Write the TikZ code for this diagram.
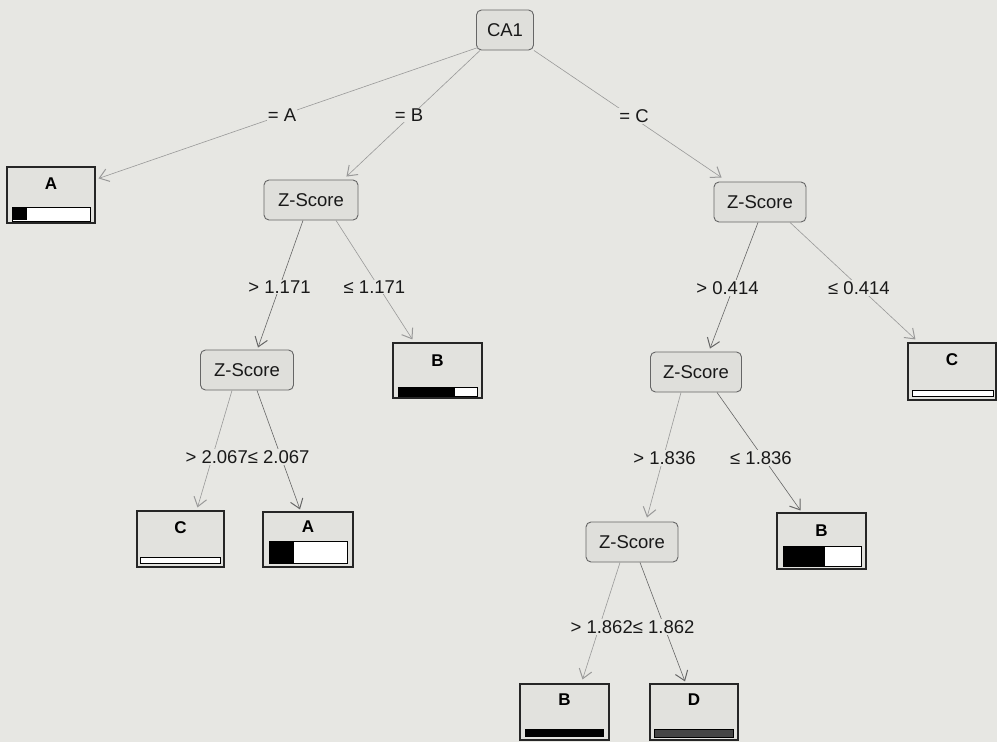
\documentclass[tikz,border=0pt]{standalone}
\usepackage{fontspec}
\setmainfont{Liberation Sans}
\usetikzlibrary{arrows.meta,calc}
\definecolor{bgc}{RGB}{231,231,227}
\definecolor{nodefill}{RGB}{223,223,219}
\definecolor{leaffill}{RGB}{226,226,222}
\definecolor{txt}{RGB}{25,25,25}
\definecolor{darkbar}{RGB}{70,70,70}
\tikzset{
  split/.style={draw=black!60, fill=nodefill, rounded corners=5pt, line width=0.9pt,
    minimum height=40pt, inner sep=0pt, text=txt, font=\fontsize{18.5}{20}\selectfont},
  leafbox/.style={draw=black!85, fill=leaffill, line width=1.1pt,
    minimum width=88pt, minimum height=56pt, inner sep=0pt},
  leafletter/.style={inner sep=0pt, text=black, font=\bfseries\fontsize{17}{19}\selectfont},
  lbl/.style={inner sep=1pt, fill=bgc, text=txt, font=\fontsize{18.5}{20}\selectfont},
  conn/.style={draw=black!40, line width=0.6pt, -{Straight Barb[length=9pt,width=13pt,line width=1pt]}},
  conndark/.style={conn, draw=black!60},
  barframe/.style={draw=black, line width=1pt, fill=white}
}
\begin{document}
\begin{tikzpicture}[x=1pt,y=-1pt]
\fill[bgc] (0,0) rectangle (997,742);
\useasboundingbox (0,0) rectangle (997,742);

% split nodes
\node[split, minimum width=57pt] (ca1) at (505,30) {CA1};
\node[split, minimum width=94pt] (zb) at (311,200) {Z-Score};
\node[split, minimum width=92pt] (zc) at (760,202) {Z-Score};
\node[split, minimum width=93pt] (z3l) at (247,370) {Z-Score};
\node[split, minimum width=91pt] (z3r) at (696,372) {Z-Score};
\node[split, minimum width=92pt] (z4) at (632,542) {Z-Score};

% leaf A (top left)
\node[leafbox] (la1) at (51,195) {};
\node[leafletter] (la1t) at (51,184) {A};
\draw[barframe] (12,207) rectangle (90,221);
\fill[black] (12,208) rectangle (27,220);

% leaf B (<= 1.171)
\node[leafbox, minimum width=89pt, minimum height=55pt] (lb1) at (437.5,370.5) {};
\node[leafletter] (lb1t) at (437.5,360.5) {B};
\draw[barframe] (398,387) rectangle (477,396);
\fill[black] (398,387) rectangle (455,396);

% leaf C (> 2.067)
\node[leafbox, minimum width=87pt] (lc1) at (180.5,539) {};
\node[leafletter] (lc1t) at (180.5,527.5) {C};
\draw[barframe] (140,557) rectangle (220,563);

% leaf A (<= 2.067)
\node[leafbox, minimum width=90pt, minimum height=55pt] (la2) at (308,539.5) {};
\node[leafletter] (la2t) at (308,527) {A};
\draw[barframe] (269,541) rectangle (347,563);
\fill[black] (269,541) rectangle (294,563);

% leaf C (<= 0.414)
\node[leafbox, minimum width=88pt, minimum height=57pt] (lc2) at (952,371.5) {};
\node[leafletter] (lc2t) at (952,360) {C};
\draw[barframe] (912,390) rectangle (993,396);

% leaf B (<= 1.836)
\node[leafbox, minimum width=89pt] (lb2) at (821.5,541) {};
\node[leafletter] (lb2t) at (821.5,531) {B};
\draw[barframe] (783,546) rectangle (861,566);
\fill[black] (783,546) rectangle (825,566);

% leaf B (> 1.862)
\node[leafbox, minimum width=89pt] (lb3) at (564.5,712) {};
\node[leafletter] (lb3t) at (564.5,700) {B};
\draw[barframe, fill=black] (525,729) rectangle (603,736);

% leaf D (<= 1.862)
\node[leafbox] (ld) at (694,712) {};
\node[leafletter] (ldt) at (694,700) {D};
\draw[barframe, fill=darkbar] (654,729) rectangle (733,737);

% connectors
\draw[conn] ($(ca1.south west)+(2,-3)$) -- ($(la1.north east)+(3,12)$);
\draw[conn] ($(ca1.south west)+(4,0)$) -- ($(zb.north east)+(-12,-3)$);
\draw[conn] (ca1.south east) -- ($(zc.north west)+(8,-4)$);
\draw[conndark] ($(zb.south)+(-8,0)$) -- ($(z3l.north)+(11,-2)$);
\draw[conn] ($(zb.south)+(25,0)$) -- ($(lb1.north west)+(20,-3)$);
\draw[conn] ($(z3l.south)+(-15,0)$) -- ($(lc1.north)+(17,-3)$);
\draw[conndark] ($(z3l.south)+(10,0)$) -- ($(la2.north)+(-8,-2)$);
\draw[conndark] ($(zc.south)+(-2,0)$) -- ($(z3r.north)+(14,-3)$);
\draw[conn] ($(zc.south)+(30,0)$) -- ($(lc2.north west)+(8,-3)$);
\draw[conn] ($(z3r.south)+(-15,0)$) -- ($(z4.north)+(15,-4)$);
\draw[conndark] ($(z3r.south)+(21,0)$) -- ($(lb2.north)+(-21,-2)$);
\draw[conn] ($(z4.south)+(-12,0)$) -- ($(lb3.north)+(18,-4)$);
\draw[conndark] ($(z4.south)+(8,0)$) -- ($(ld.north)+(-9,-2)$);

% edge labels
\node[lbl] (e1) at (282,115) {= A};
\node[lbl] (e2) at (409,115) {= B};
\node[lbl] (e3) at (634,116) {= C};
\node[lbl] (e4) at (279.5,287) {> 1.171};
\node[lbl] (e5) at (374.5,287) {≤ 1.171};
\node[lbl] (e6) at (727.5,288) {> 0.414};
\node[lbl] (e7) at (859,288) {≤ 0.414};
\node[lbl] (e8) at (247.5,457) {> 2.067≤ 2.067};
\node[lbl] (e9) at (664.5,458) {> 1.836};
\node[lbl] (e10) at (761,458) {≤ 1.836};
\node[lbl] (e11) at (632.5,627) {> 1.862≤ 1.862};
\end{tikzpicture}
\end{document}
